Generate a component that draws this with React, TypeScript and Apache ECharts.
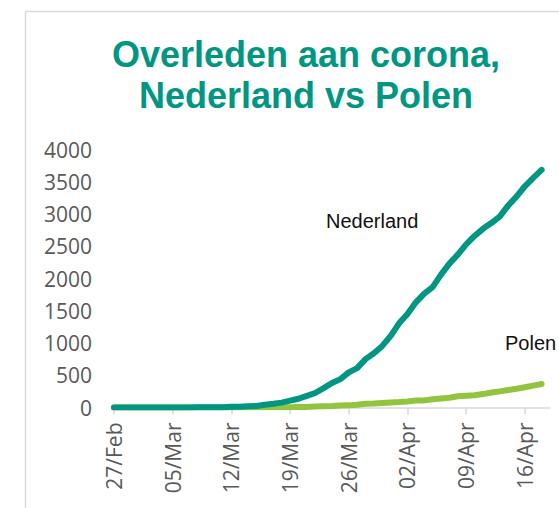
import React, { useEffect, useRef } from "react";
import * as echarts from "echarts";

const dates: string[] = [
  "27/Feb", "28/Feb", "29/Feb",
  "01/Mar", "02/Mar", "03/Mar", "04/Mar", "05/Mar", "06/Mar", "07/Mar", "08/Mar", "09/Mar", "10/Mar",
  "11/Mar", "12/Mar", "13/Mar", "14/Mar", "15/Mar", "16/Mar", "17/Mar", "18/Mar", "19/Mar", "20/Mar",
  "21/Mar", "22/Mar", "23/Mar", "24/Mar", "25/Mar", "26/Mar", "27/Mar", "28/Mar", "29/Mar", "30/Mar", "31/Mar",
  "01/Apr", "02/Apr", "03/Apr", "04/Apr", "05/Apr", "06/Apr", "07/Apr", "08/Apr", "09/Apr", "10/Apr",
  "11/Apr", "12/Apr", "13/Apr", "14/Apr", "15/Apr", "16/Apr", "17/Apr", "18/Apr", "19/Apr",
];

const nederland: number[] = [
  0, 0, 0, 0, 0, 0, 0, 1, 1, 1, 3, 4, 5, 5, 10, 12, 20, 24, 43, 58, 76, 106, 136, 179, 225, 300, 380, 440,
  545, 610, 750, 840, 955, 1110, 1305, 1450, 1630, 1766, 1867, 2060, 2230, 2370, 2530, 2660, 2770, 2860,
  2960, 3130, 3270, 3430, 3560, 3684,
];

const polen: number[] = [
  0, 0, 0, 0, 0, 0, 0, 0, 0, 0, 0, 0, 0, 0, 1, 2, 3, 3, 4, 5, 5, 5, 7, 8, 14, 18, 22, 31, 33, 43, 57, 62,
  71, 79, 84, 94, 107, 110, 129, 140, 152, 174, 183, 190, 208, 232, 250, 270, 290, 314, 340, 364,
];

const yTicks = { min: 0, max: 4000, interval: 500 };

const TEAL = "#009682";
const GREEN = "#92c43e";
const GRAY_TEXT = "#595959";
const AXIS_GRAY = "#d9d9d9";

export default function App() {
  const ref = useRef<HTMLDivElement>(null);

  useEffect(() => {
    document.body.style.margin = "0";
    if (!ref.current) return;
    const chart = echarts.init(ref.current, undefined, { renderer: "svg" });
    chart.setOption({
      animation: false,
      backgroundColor: "#ffffff",
      title: {
        text: "Overleden aan corona,\nNederland vs Polen",
        left: 306,
        top: 34,
        textAlign: "center",
        padding: 0,
        textStyle: {
          color: TEAL,
          fontFamily: "Liberation Sans, Arial, sans-serif",
          fontWeight: "bold",
          fontSize: 36,
          lineHeight: 41,
        },
      },
      grid: { left: 114, right: 9, top: 149.5, bottom: 100.5, containLabel: false },
      xAxis: {
        type: "category",
        data: dates,
        boundaryGap: false,
        axisLine: { show: true, lineStyle: { color: AXIS_GRAY, width: 1.5 } },
        axisTick: { show: true, interval: 6, length: 7, lineStyle: { color: AXIS_GRAY, width: 1.5 } },
        axisLabel: {
          interval: 6,
          rotate: 90,
          margin: 15,
          color: GRAY_TEXT,
          fontFamily: "Open Sans, sans-serif",
          fontSize: 21,
          padding: [14, 0, 0, 0],
        },
        splitLine: { show: false },
      },
      yAxis: {
        type: "value",
        min: yTicks.min,
        max: yTicks.max,
        interval: yTicks.interval,
        axisLine: { show: false },
        axisTick: { show: false },
        splitLine: { show: false },
        axisLabel: {
          margin: 22,
          color: GRAY_TEXT,
          fontFamily: "Open Sans, sans-serif",
          fontSize: 21,
          formatter: (v: number) => String(v),
        },
      },
      graphic: [
        {
          type: "rect",
          silent: true,
          shape: { x: 25.5, y: 11.5, width: 700, height: 700 },
          style: { fill: "none", stroke: AXIS_GRAY, lineWidth: 1.5 },
          z: -10,
        },
        {
          type: "text",
          x: 326,
          y: 221,
          style: {
            text: "Nederland",
            fill: "#111111",
            font: "20px 'Liberation Sans', Arial, sans-serif",
            verticalAlign: "middle",
            align: "left",
          },
        },
        {
          type: "text",
          x: 505,
          y: 342.5,
          style: {
            text: "Polen",
            fill: "#111111",
            font: "20px 'Liberation Sans', Arial, sans-serif",
            verticalAlign: "middle",
            align: "left",
          },
        },
      ],
      series: [
        {
          name: "Polen",
          type: "line",
          data: polen,
          showSymbol: false,
          symbol: "none",
          lineStyle: { color: GREEN, width: 6, cap: "round", join: "round" },
          itemStyle: { color: GREEN },
          z: 2,
        },
        {
          name: "Nederland",
          type: "line",
          data: nederland,
          showSymbol: false,
          symbol: "none",
          lineStyle: { color: TEAL, width: 6, cap: "round", join: "round" },
          itemStyle: { color: TEAL },
          z: 3,
        },
      ],
    });
    return () => chart.dispose();
  }, []);

  return <div ref={ref} style={{ width: 559, height: 508 }} />;
}
